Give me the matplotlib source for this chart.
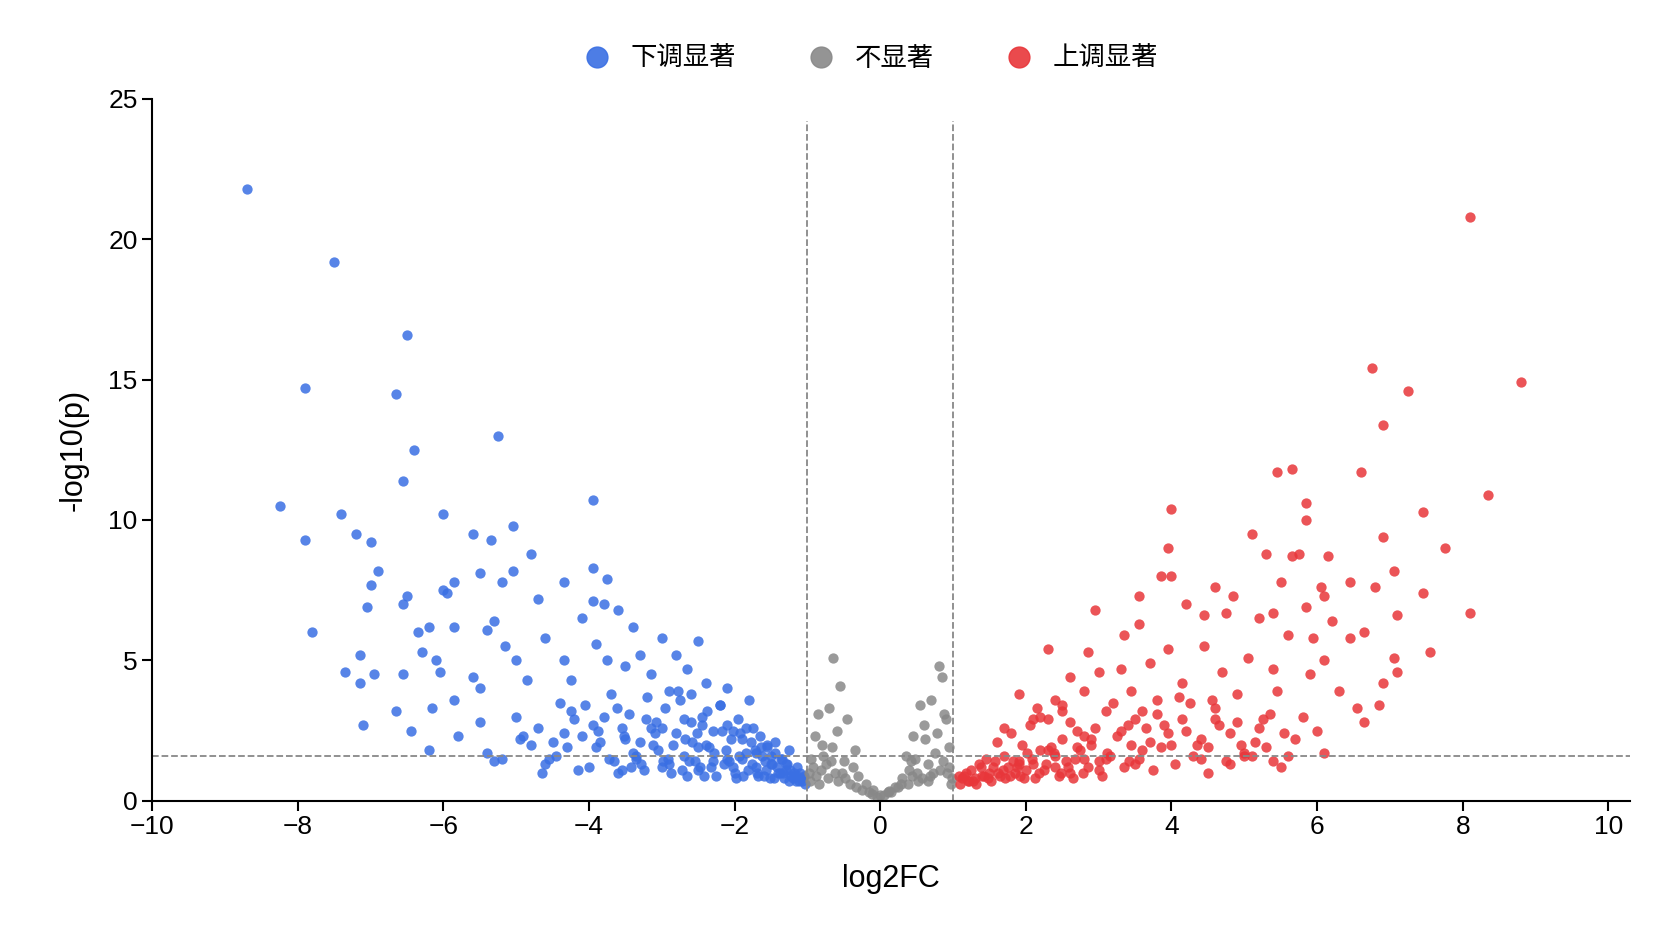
import matplotlib
matplotlib.use("Agg")
import matplotlib.pyplot as plt
from matplotlib.lines import Line2D

plt.rcParams['font.family'] = ['Liberation Sans', 'Noto Sans CJK SC']

down_x = [-8.7,-7.5,-6.5,-7.9,-6.65,-6.4,-5.25,-6.55,-8.25,-3.95,-7.4,-6.0,-7.9,-7.2,-7.0,-5.6,-5.35,-5.05,-4.8,-6.9,
          -7.0,-6.5,-6.0,-5.85,-5.5,-5.2,-5.05,-4.35,-3.95,-3.75,-7.8,-7.05,-6.55,-6.35,-6.2,-5.95,-5.85,-5.4,-5.3,-4.7,
          -4.1,-3.95,-3.8,-3.6,-3.4,-3.0,-2.5,-7.15,-7.35,-7.15,-6.95,-6.3,-6.1,-6.05,-6.55,-5.6,-5.5,-5.15,-5.0,-4.85,
          -4.6,-4.35,-4.25,-3.9,-3.75,-3.5,-3.3,-3.15,-2.8,-2.65,-2.4,-2.1,-1.8,-7.1,-6.65,-6.45,-6.15,-6.2,-5.85,-5.8,
          -5.5,-5.4,-5.3,-5.0,-4.95,-4.7,-4.6,-4.4,-4.3,-4.1,-4.45,-4.2,-4.05,-3.85,-3.7,-3.55,-3.45,-3.35,-3.2,-3.1,
          -2.95,-2.85,-2.75,-2.6,-2.55,-2.45,-2.3,-2.2,-2.05,-1.95,-1.85,-1.75,-1.65,-1.55,-1.45,-1.35,-1.25,-1.15,-1.1,-1.05,
          -4.0,-3.9,-3.65,-3.5,-3.25,-3.05,-2.9,-2.7,-2.5,-2.35,-2.15,-2.0,-1.9,-1.7,-1.6,-1.5,-1.4,-1.3,-1.2,-1.12,
          -3.8,-3.6,-3.4,-3.15,-3.0,-2.8,-2.65,-2.4,-2.25,-2.1,-1.98,-1.82,-1.68,-1.52,-1.42,-1.32,-1.22,-1.16,-1.08,-1.03,
          -4.8,-4.55,-4.35,-4.15,-3.95,-3.72,-3.52,-3.28,-3.08,-2.88,-2.68,-2.48,-2.28,-2.08,-1.88,-1.72,-1.58,-1.38,-1.28,-1.18,
          -5.2,-4.9,-4.65,-4.5,-4.25,-3.88,-3.62,-3.42,-3.22,-2.98,-2.78,-2.58,-2.38,-2.18,-1.92,-1.78,-1.62,-1.48,-1.34,-1.24,
          -3.3,-3.0,-2.7,-2.5,-2.3,-2.1,-1.9,-1.7,-1.5,-1.3,-2.9,-2.6,-2.2,-1.85,-1.55,-3.55,-2.45,-2.02,-1.64,-1.44,
          -3.35,-3.12,-2.92,-2.72,-2.52,-2.32,-2.12,-1.94,-1.76,-1.57,-1.46,-1.36,-1.26,-1.19,-1.14,-1.07,-2.62,-2.42,-2.02,-1.69]
down_y = [21.8,19.2,16.6,14.7,14.5,12.5,13.0,11.4,10.5,10.7,10.2,10.2,9.3,9.5,9.2,9.5,9.3,9.8,8.8,8.2,
          7.7,7.3,7.5,7.8,8.1,7.8,8.2,7.8,8.3,7.9,6.0,6.9,7.0,6.0,6.2,7.4,6.2,6.1,6.4,7.2,
          6.5,7.1,7.0,6.8,6.2,5.8,5.7,5.2,4.6,4.2,4.5,5.3,5.0,4.6,4.5,4.4,4.0,5.5,5.0,4.3,
          5.8,5.0,4.3,5.6,5.0,4.8,5.2,4.5,5.2,4.7,4.2,4.0,3.6,2.7,3.2,2.5,3.3,1.8,3.6,2.3,
          2.8,1.7,1.4,3.0,2.2,2.6,1.3,3.5,1.9,2.3,1.6,2.9,3.4,2.1,3.8,2.6,3.1,1.5,3.7,2.4,
          3.3,2.0,3.6,2.8,1.4,3.0,2.5,3.4,2.2,2.9,1.7,2.6,2.3,1.9,2.1,1.5,1.8,1.2,1.0,0.9,
          1.2,1.9,1.4,2.2,1.1,1.8,1.3,1.6,1.1,1.9,1.3,1.0,1.5,1.2,0.9,1.3,1.0,1.1,0.8,0.7,
          3.0,1.0,1.7,2.6,1.2,2.4,0.9,2.0,0.9,1.5,0.8,1.1,0.9,0.8,1.2,0.8,0.9,0.7,0.8,0.6,
          2.0,1.5,2.4,1.1,2.7,1.5,2.3,1.3,2.8,1.0,2.2,1.2,1.7,1.4,0.9,1.8,1.4,1.0,1.3,0.9,
          1.5,2.3,1.0,2.1,3.2,2.5,3.3,1.2,2.9,1.4,3.9,2.1,3.2,2.5,2.4,2.1,1.6,1.3,1.0,1.1,
          2.1,2.6,2.9,1.9,1.4,2.7,2.2,1.7,1.6,1.3,3.9,3.8,3.4,2.6,2.0,1.1,2.7,2.5,1.9,1.7,
          1.6,2.0,1.5,1.1,2.4,1.2,1.8,1.6,1.3,1.1,0.8,1.5,0.7,1.0,0.9,0.7,1.4,0.9,1.2,1.0]

ns_x = [-0.65,-0.55,0.8,0.85,-0.85,-0.7,0.55,0.7,0.6,-0.45,-0.9,-0.8,-0.6,-0.35,0.35,0.45,0.9,0.95,-0.95,-0.75,
        -0.5,-0.3,-0.2,-0.1,0.0,0.1,0.2,0.3,0.4,0.5,0.65,0.75,-0.88,-0.72,-0.58,-0.42,-0.25,-0.15,-0.05,0.05,
        0.15,0.25,0.38,0.52,0.68,0.82,0.92,-0.97,-0.66,-0.38,0.42,0.62,0.88,-0.82,0.78,-0.52,0.48,0.98,-0.12,0.12,
        -0.93,-0.78,-0.62,-0.48,-0.33,0.28,0.44,0.58,0.72,0.86,-0.98,-0.84,0.94,0.97,-0.68,0.66]
ns_y = [5.1,4.1,4.8,4.4,3.1,3.3,3.4,3.6,2.7,2.9,2.3,2.0,2.5,1.8,1.6,2.3,2.9,1.9,1.5,1.3,
        1.4,0.9,0.6,0.4,0.2,0.3,0.5,0.8,1.1,1.0,1.3,1.7,0.9,0.8,0.7,0.6,0.4,0.3,0.15,0.2,
        0.3,0.5,0.6,0.7,0.9,1.1,1.0,0.7,1.9,1.2,1.4,2.2,3.1,1.1,2.4,1.0,1.5,0.8,0.25,0.35,
        1.2,1.6,1.0,0.8,0.5,0.6,0.9,0.8,1.0,1.4,1.0,0.6,1.2,0.6,1.4,0.7]

up_x = [8.1,6.75,7.25,8.8,6.9,5.45,5.65,6.6,8.35,5.85,5.85,4.0,7.45,3.95,5.1,6.9,5.3,5.65,5.75,6.15,
        7.75,3.85,4.0,7.05,4.6,5.5,6.05,6.45,3.55,4.2,4.85,5.4,6.1,6.8,7.45,8.1,2.95,3.55,4.45,4.75,
        5.2,5.85,6.2,6.65,7.1,2.3,2.85,3.35,3.95,4.45,5.05,5.6,5.95,6.45,7.05,7.55,2.6,3.0,3.3,3.7,
        4.15,4.7,5.4,5.9,6.1,6.9,7.1,2.4,2.8,3.45,3.8,4.25,4.9,5.45,6.3,6.55,6.85,6.65,1.9,2.15,
        2.5,3.1,3.6,4.6,5.25,5.8,6.0,5.55,6.1,5.6,1.1,1.15,1.2,1.25,1.3,1.35,1.4,1.45,1.5,1.55,
        1.6,1.65,1.7,1.75,1.8,1.85,1.9,1.95,2.0,2.05,2.1,2.2,2.3,2.4,2.5,2.6,2.7,2.8,2.9,3.0,
        1.12,1.22,1.32,1.42,1.52,1.62,1.72,1.82,1.92,2.02,2.12,2.25,2.35,2.45,2.55,2.65,2.75,2.85,2.95,3.05,
        3.15,3.25,3.35,3.45,3.55,3.65,3.75,3.85,3.95,4.05,4.15,4.3,4.4,4.5,4.65,4.8,4.95,5.1,5.3,5.5,
        2.2,2.4,2.6,2.8,3.0,3.2,3.4,3.6,3.8,4.0,4.2,4.4,4.6,4.8,5.0,5.2,5.4,5.7,4.1,3.5,
        1.7,1.9,2.1,2.3,2.5,2.7,2.9,3.1,3.3,3.5,3.7,3.9,4.35,4.55,4.75,4.9,5.15,5.35,5.0,4.5,
        1.08,1.18,1.28,1.38,1.48,1.58,1.68,1.78,1.88,1.98,2.08,2.18,2.28,2.38,2.48,2.58,2.68,2.78,3.12,3.42]
up_y = [20.8,15.4,14.6,14.9,13.4,11.7,11.8,11.7,10.9,10.6,10.0,10.4,10.3,9.0,9.5,9.4,8.8,8.7,8.8,8.7,
        9.0,8.0,8.0,8.2,7.6,7.8,7.6,7.8,7.3,7.0,7.3,6.7,7.3,7.6,7.4,6.7,6.8,6.3,6.6,6.7,
        6.5,6.9,6.4,6.0,6.6,5.4,5.3,5.9,5.4,5.5,5.1,5.9,5.8,5.8,5.1,5.3,4.4,4.6,4.7,4.9,
        4.2,4.6,4.7,4.5,5.0,4.2,4.6,3.6,3.9,3.9,3.6,3.5,3.8,3.9,3.9,3.3,3.4,2.8,3.8,3.3,
        3.2,3.2,3.2,2.9,2.9,3.0,2.5,2.4,1.7,1.6,0.6,0.9,0.7,1.1,0.8,1.3,0.9,1.5,1.0,1.2,
        2.1,0.9,1.6,1.2,2.4,1.0,1.4,2.0,1.1,2.7,1.3,1.8,2.9,1.2,2.2,1.0,2.5,1.5,2.0,1.1,
        0.8,0.7,0.6,0.9,0.7,1.0,0.8,1.4,0.9,1.7,0.8,1.1,1.9,0.9,1.4,0.8,1.8,1.2,2.6,0.9,
        1.6,2.3,1.2,2.0,1.5,2.6,1.1,1.9,2.4,1.3,2.9,1.6,2.2,1.0,2.7,1.3,2.0,1.6,1.9,1.2,
        3.0,1.6,2.8,2.3,1.4,3.5,2.7,1.8,3.1,2.0,2.5,1.5,3.3,2.4,1.7,2.6,1.4,2.2,3.7,2.9,
        2.6,1.3,2.9,1.8,3.4,1.9,2.2,1.5,2.5,1.3,2.1,2.7,2.0,3.6,1.4,2.8,2.1,3.1,1.6,1.9,
        0.9,1.0,0.7,1.2,0.8,1.4,1.1,0.9,1.2,0.8,1.5,1.0,1.3,1.7,1.0,1.2,1.5,1.0,1.7,1.4]

c_down, c_ns, c_up = '#3A6FE3', '#888888', '#E8363A'

fig = plt.figure(figsize=(16.72, 9.41), dpi=100)
ax = fig.add_axes([0.091, 0.149, 0.884, 0.746])
kw = dict(s=55, alpha=0.85, linewidths=0)
ax.scatter(down_x, down_y, color=c_down, **kw)
ax.scatter(ns_x, ns_y, color=c_ns, **kw)
ax.scatter(up_x, up_y, color=c_up, **kw)

ax.axhline(1.6, color='#888888', ls='--', lw=1.3)
for xv in (-1, 1):
    ax.plot([xv, xv], [0, 24.2], color='#888888', ls='--', lw=1.3)

ax.set_xlim(-10, 10.3)
ax.set_ylim(0, 25)
ax.set_xticks(range(-10, 11, 2))
ax.set_xticklabels([str(v).replace('-', '−') for v in range(-10, 11, 2)])
ax.set_yticks(range(0, 26, 5))
for s in ('top', 'right'):
    ax.spines[s].set_visible(False)
for s in ('left', 'bottom'):
    ax.spines[s].set_linewidth(1.5)
ax.tick_params(labelsize=19, width=1.5, length=7)
ax.set_xlabel('log2FC', fontsize=22, labelpad=18)
ax.set_ylabel('-log10(p)', fontsize=22, labelpad=14)

handles = [Line2D([], [], marker='o', ls='', color=c, markersize=15, alpha=0.9) for c in (c_down, c_ns, c_up)]
fig.legend(handles, ['下调显著', '不显著', '上调显著'], loc='upper center', ncol=3,
           bbox_to_anchor=(0.517, 0.975), frameon=False, fontsize=19, handletextpad=0.3, columnspacing=2.2)
fig.savefig('out.png')
